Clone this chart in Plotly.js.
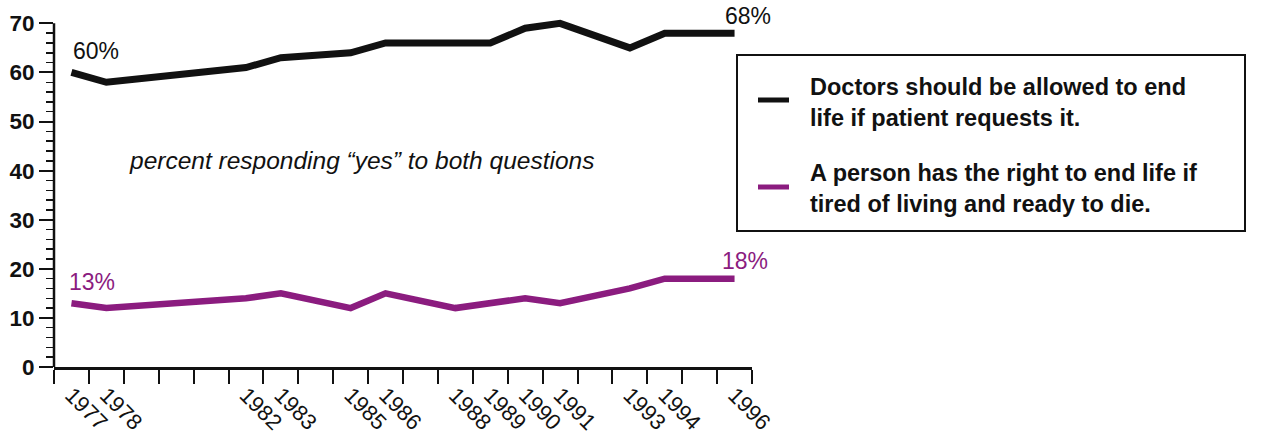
<!DOCTYPE html>
<html>
<head>
<meta charset="utf-8">
<script src="https://cdn.plot.ly/plotly-3.0.1.min.js"></script>
<style>
  html, body { margin: 0; padding: 0; background: #fff; }
  #chart { width: 1264px; height: 439px; }
</style>
</head>
<body>
<div id="chart"></div>
<script>
// ---- data ----
const years = [1977, 1978, 1982, 1983, 1985, 1986, 1988, 1989, 1990, 1991, 1993, 1994, 1996];
const doctorsAllowed = [60, 58, 61, 63, 64, 66, 66, 66, 69, 70, 65, 68, 68];
const personRight = [13, 12, 14, 15, 12, 15, 12, 13, 14, 13, 16, 18, 18];
const seriesNames = [
  ["Doctors should be allowed to end", "life if patient requests it."],
  ["A person has the right to end life if", "tired of living and ready to die."]
];
const noteText = "percent responding \u201cyes\u201d to both questions";
const yTicks = [0, 10, 20, 30, 40, 50, 60, 70];

// ---- style ----
const FONT = "'Liberation Sans', Arial, Helvetica, sans-serif";
const INK = "#111111";
const PURPLE = "#8b1c7f";
const W = 1264, H = 439;
const M = {l: 54, r: 512, t: 16, b: 72};
const plotW = W - M.l - M.r, plotH = H - M.t - M.b;
const px = x => (x - M.l) / plotW;          // pixel -> paper x
const py = y => (H - M.b - y) / plotH;      // pixel -> paper y

const xBounds = [];
for (let v = years[0] - 0.5; v <= years[years.length - 1] + 0.5; v += 1) xBounds.push(v);

const traces = [
  {x: years, y: doctorsAllowed, mode: 'lines', name: seriesNames[0].join(' '),
   line: {color: INK, width: 7}, showlegend: false, hoverinfo: 'x+y'},
  {x: years, y: personRight, mode: 'lines', name: seriesNames[1].join(' '),
   line: {color: PURPLE, width: 6.5}, showlegend: false, hoverinfo: 'x+y'}
];

const last = years.length - 1;
const annotations = [
  {x: years[0], y: doctorsAllowed[0], xref: 'x', yref: 'y', text: doctorsAllowed[0] + '%',
   showarrow: false, xanchor: 'left', yanchor: 'middle', xshift: 0, yshift: 21,
   font: {family: FONT, size: 23, color: INK}},
  {x: years[last], y: doctorsAllowed[last], xref: 'x', yref: 'y', text: doctorsAllowed[last] + '%',
   showarrow: false, xanchor: 'center', yanchor: 'middle', xshift: 13, yshift: 17,
   font: {family: FONT, size: 23, color: INK}},
  {x: years[0], y: personRight[0], xref: 'x', yref: 'y', text: personRight[0] + '%',
   showarrow: false, xanchor: 'left', yanchor: 'middle', xshift: -4, yshift: 21,
   font: {family: FONT, size: 23, color: PURPLE}},
  {x: years[last], y: personRight[last], xref: 'x', yref: 'y', text: personRight[last] + '%',
   showarrow: false, xanchor: 'center', yanchor: 'middle', xshift: 10, yshift: 18,
   font: {family: FONT, size: 23, color: PURPLE}},
  {x: px(127), y: py(160), xref: 'paper', yref: 'paper', text: '<i>' + noteText + '</i>',
   showarrow: false, xanchor: 'left', yanchor: 'middle',
   font: {family: FONT, size: 24.5, color: INK}}
];

// legend lines
const legendLineY = [[87, 118], [173, 204]];
seriesNames.forEach((lines, i) => {
  lines.forEach((t, j) => {
    annotations.push({x: px(808), y: py(legendLineY[i][j]), xref: 'paper', yref: 'paper',
      text: '<b>' + t + '</b>', showarrow: false, xanchor: 'left', yanchor: 'middle',
      font: {family: FONT, size: 23.5, color: INK}});
  });
});

const shapes = [
  // y axis line (0..70)
  {type: 'line', xref: 'paper', yref: 'y', x0: 0, x1: 0, y0: 0, y1: yTicks[yTicks.length - 1],
   line: {color: INK, width: 2.5}},
  // legend box
  {type: 'rect', xref: 'paper', yref: 'paper', x0: px(737), x1: px(1245), y0: py(231), y1: py(55),
   line: {color: INK, width: 2}, fillcolor: 'rgba(0,0,0,0)'},
  // legend swatches
  {type: 'line', xref: 'paper', yref: 'paper', x0: px(758), x1: px(789), y0: py(100), y1: py(100),
   line: {color: INK, width: 5}},
  {type: 'line', xref: 'paper', yref: 'paper', x0: px(758), x1: px(789), y0: py(187), y1: py(187),
   line: {color: PURPLE, width: 5}}
];

const layout = {
  width: W, height: H,
  margin: M,
  paper_bgcolor: '#ffffff', plot_bgcolor: '#ffffff',
  showlegend: false,
  font: {family: FONT, color: INK},
  xaxis: {
    range: [years[0] - 0.5, years[last] + 0.5],
    tickmode: 'array', tickvals: years, ticktext: years.map(String),
    ticks: '', tickangle: 45, ticklabelstandoff: 4,
    tickfont: {family: FONT, size: 22, color: INK},
    showline: true, linecolor: INK, linewidth: 2.5,
    showgrid: false, zeroline: false,
    minor: {tickmode: 'array', tickvals: xBounds, ticks: 'outside', ticklen: 14,
            tickwidth: 2, tickcolor: INK, showgrid: false}
  },
  yaxis: {
    range: [0, 71.5],
    tickmode: 'array', tickvals: yTicks, ticktext: yTicks.map(v => '<b>' + v + '</b>'),
    ticks: 'outside', ticklen: 14, tickwidth: 2, tickcolor: INK,
    tickfont: {family: FONT, size: 22.5, color: INK},
    showline: false, showgrid: false, zeroline: false,
    minor: {dtick: 2, tick0: 0, ticks: 'outside', ticklen: 7, tickwidth: 1.5, tickcolor: INK, showgrid: false}
  },
  annotations: annotations,
  shapes: shapes
};

Plotly.newPlot('chart', traces, layout, {displayModeBar: false, staticPlot: true});
</script>
</body>
</html>
